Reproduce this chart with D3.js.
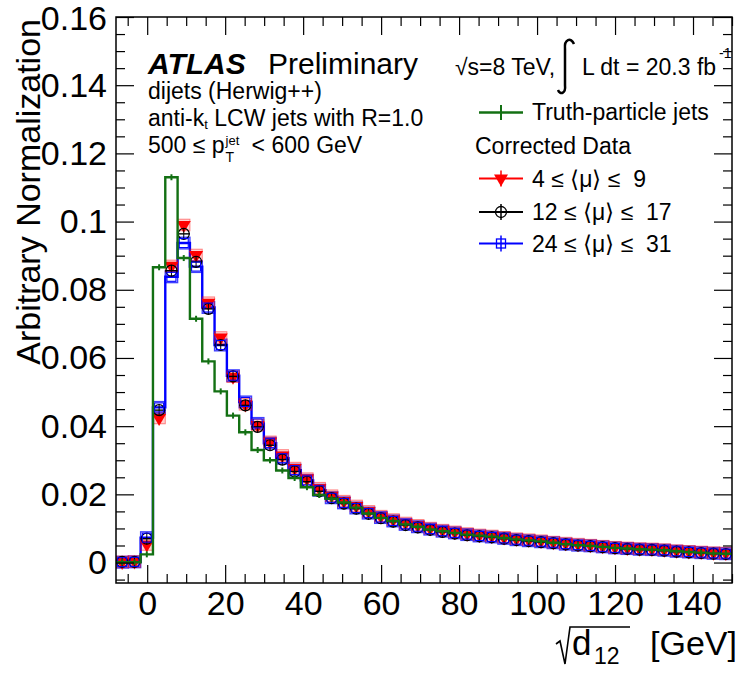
<!DOCTYPE html>
<html>
<head>
<meta charset="utf-8">
<script src="https://cdn.jsdelivr.net/npm/d3@7"></script>
<style>
  body { margin: 0; background: #fff; }
  text { font-family: "Liberation Sans", Arial, Helvetica, sans-serif; fill: #000; white-space: pre; }
</style>
</head>
<body>
<div id="chart"></div>
<script>
// binning of sqrt(d12): 50 bins from -8 to 150 GeV
var binLo = -8, binHi = 150, nBins = 50;

var truthJets = [0.0001, 0.0001, 0.0024, 0.0866, 0.1130, 0.0893, 0.0715, 0.0590, 0.0502, 0.0431,
  0.0382, 0.0330, 0.0300, 0.0270, 0.0248, 0.0221, 0.0198, 0.0187, 0.0176, 0.0161,
  0.0144, 0.0131, 0.0122, 0.0112, 0.0105, 0.0097, 0.0092, 0.0087, 0.0082, 0.0079,
  0.0076, 0.0072, 0.0068, 0.0065, 0.0062, 0.0058, 0.0054, 0.0051, 0.0049, 0.0046,
  0.0043, 0.0041, 0.0039, 0.0038, 0.0036, 0.0033, 0.0031, 0.0029, 0.0027, 0.0026];

var mu4to9 = [0.0002, 0.0003, 0.0053, 0.0424, 0.0870, 0.0990, 0.0902, 0.0762, 0.0660, 0.0545,
  0.0464, 0.0403, 0.0354, 0.0314, 0.0277, 0.0246, 0.0218, 0.0196, 0.0180, 0.0166,
  0.0150, 0.0136, 0.0126, 0.0116, 0.0109, 0.0101, 0.0095, 0.0090, 0.0085, 0.0081,
  0.0078, 0.0074, 0.0070, 0.0067, 0.0064, 0.0060, 0.0057, 0.0054, 0.0051, 0.0048,
  0.0045, 0.0043, 0.0041, 0.0040, 0.0038, 0.0035, 0.0033, 0.0031, 0.0029, 0.0028];

var mu12to17 = [0.0002, 0.0002, 0.0070, 0.0447, 0.0856, 0.0964, 0.0882, 0.0744, 0.0638, 0.0546,
  0.0461, 0.0398, 0.0344, 0.0302, 0.0267, 0.0237, 0.0209, 0.0189, 0.0173, 0.0158,
  0.0143, 0.0130, 0.0120, 0.0110, 0.0103, 0.0096, 0.0090, 0.0085, 0.0080, 0.0077,
  0.0074, 0.0070, 0.0066, 0.0063, 0.0060, 0.0057, 0.0053, 0.0050, 0.0048, 0.0045,
  0.0042, 0.0040, 0.0038, 0.0037, 0.0035, 0.0032, 0.0030, 0.0028, 0.0026, 0.0025];

var mu24to31 = [0.0001, 0.0002, 0.0073, 0.0455, 0.0838, 0.0937, 0.0868, 0.0748, 0.0638, 0.0548,
  0.0471, 0.0408, 0.0350, 0.0306, 0.0271, 0.0241, 0.0212, 0.0190, 0.0175, 0.0160,
  0.0145, 0.0132, 0.0122, 0.0112, 0.0105, 0.0098, 0.0092, 0.0087, 0.0082, 0.0078,
  0.0075, 0.0071, 0.0067, 0.0064, 0.0061, 0.0058, 0.0054, 0.0051, 0.0049, 0.0046,
  0.0043, 0.0041, 0.0039, 0.0038, 0.0036, 0.0033, 0.0031, 0.0029, 0.0027, 0.0026];

var xTicks = [0, 20, 40, 60, 80, 100, 120, 140];
var yTicks = [0, 0.02, 0.04, 0.06, 0.08, 0.1, 0.12, 0.14, 0.16];
var xMinor = d3.range(-5, 151, 5).filter(function(v) { return v % 20 !== 0; });
var yMinor = d3.range(-0.005, 0.1551, 0.005).filter(function(v) { return Math.abs(v / 0.02 - Math.round(v / 0.02)) > 0.01; });

var syst = 0.0017; // half height of the uncertainty boxes

var margin = {top: 17, right: 7, bottom: 90, left: 116},
    width = 739 - margin.left - margin.right,
    height = 673 - margin.top - margin.bottom;

var svg = d3.select("#chart")
  .append("svg")
    .attr("width", 739)
    .attr("height", 673);

var g = svg.append("g")
    .attr("transform", "translate(" + margin.left + "," + margin.top + ")");

var x = d3.scaleLinear().domain([binLo, binHi]).range([0, width]);
var y = d3.scaleLinear().domain([-0.006, 0.16]).range([height, 0]);

var bw = (binHi - binLo) / nBins;
var bins = d3.range(nBins).map(function(i) {
  return {i: i, lo: binLo + i * bw, hi: binLo + (i + 1) * bw, mid: binLo + (i + 0.5) * bw};
});

svg.append("defs").append("clipPath").attr("id", "clip")
  .append("rect").attr("width", width).attr("height", height);

var plot = g.append("g").attr("clip-path", "url(#clip)");

function stepPoints(vals) {
  var pts = bins.map(function(b) { return [x(b.lo), y(vals[b.i])]; });
  pts.push([x(binHi), y(vals[nBins - 1])]);
  return pts;
}
var stepLine = d3.line().curve(d3.curveStepAfter);

// blue: uncertainty boxes + histogram line
plot.append("g").selectAll("rect")
  .data(bins).enter().append("rect")
    .attr("x", function(b) { return x(b.lo); })
    .attr("y", function(b) { return y(mu24to31[b.i] + syst); })
    .attr("width", function(b) { return x(b.hi) - x(b.lo); })
    .attr("height", function(b) { return y(mu24to31[b.i] - syst) - y(mu24to31[b.i] + syst); })
    .attr("fill", "none")
    .attr("stroke", "#4040ff")
    .attr("stroke-width", 1.4);

plot.append("path")
  .attr("d", stepLine(stepPoints(mu24to31)))
  .attr("fill", "none")
  .attr("stroke", "#0000ff")
  .attr("stroke-width", 2.4);

// red boxes
plot.append("g").selectAll("rect")
  .data(bins).enter().append("rect")
    .attr("x", function(b) { return x(b.lo); })
    .attr("y", function(b) { return y(mu4to9[b.i] + syst); })
    .attr("width", function(b) { return x(b.hi) - x(b.lo); })
    .attr("height", function(b) { return y(mu4to9[b.i] - syst) - y(mu4to9[b.i] + syst); })
    .attr("fill", "#ff0000")
    .attr("fill-opacity", 0.18)
    .attr("stroke", "#ff0000")
    .attr("stroke-opacity", 0.45)
    .attr("stroke-width", 1);

// red triangles
var tri = d3.symbol().type(d3.symbolTriangle).size(85);
plot.append("g").selectAll("path")
  .data(bins).enter().append("path")
    .attr("d", tri)
    .attr("transform", function(b) { return "translate(" + x(b.mid) + "," + y(mu4to9[b.i]) + ") rotate(180)"; })
    .attr("fill", "#ff0000");

// black: horizontal bin bars, vertical errors, open circles
var blk = plot.append("g");
bins.forEach(function(b) {
  var cx = x(b.mid), cy = y(mu12to17[b.i]);
  blk.append("line").attr("x1", x(b.lo)).attr("x2", x(b.hi)).attr("y1", cy).attr("y2", cy)
    .attr("stroke", "#000").attr("stroke-width", 1.4);
  blk.append("line").attr("x1", cx).attr("x2", cx)
    .attr("y1", y(mu12to17[b.i] + syst)).attr("y2", y(mu12to17[b.i] - syst))
    .attr("stroke", "#000").attr("stroke-width", 1);
  blk.append("circle").attr("cx", cx).attr("cy", cy).attr("r", 5.5)
    .attr("fill", "none").attr("stroke", "#000").attr("stroke-width", 1.2);
});

// blue open squares
plot.append("g").selectAll("rect")
  .data(bins).enter().append("rect")
    .attr("x", function(b) { return x(b.mid) - 4.5; })
    .attr("y", function(b) { return y(mu24to31[b.i]) - 4.5; })
    .attr("width", 9).attr("height", 9)
    .attr("fill", "none")
    .attr("stroke", "#0000ff")
    .attr("stroke-width", 1.1);

// truth-particle jets, green histogram on top
plot.append("path")
  .attr("d", stepLine(stepPoints(truthJets)))
  .attr("fill", "none")
  .attr("stroke", "#137013")
  .attr("stroke-width", 2.4);
plot.append("g").selectAll("line")
  .data(bins).enter().append("line")
    .attr("x1", function(b) { return x(b.mid); })
    .attr("x2", function(b) { return x(b.mid); })
    .attr("y1", function(b) { return y(truthJets[b.i]) - 3; })
    .attr("y2", function(b) { return y(truthJets[b.i]) + 3; })
    .attr("stroke", "#137013")
    .attr("stroke-width", 2);

// axes (ROOT style: ticks inside, mirrored on top/right)
function styleAxis(sel) {
  sel.select(".domain").remove();
  sel.selectAll("line").attr("stroke", "#000").attr("stroke-width", 1.2);
  sel.selectAll("text").style("font-size", "34px").attr("fill", "#000");
}

g.append("g").attr("transform", "translate(0," + height + ")")
  .call(d3.axisBottom(x).tickValues(xTicks).tickSize(-18).tickPadding(8).tickSizeOuter(0).tickFormat(d3.format("d")))
  .call(styleAxis);
g.append("g").attr("transform", "translate(0," + height + ")")
  .call(d3.axisBottom(x).tickValues(xMinor).tickSize(-9).tickFormat(""))
  .call(styleAxis);
g.append("g")
  .call(d3.axisTop(x).tickValues(xTicks).tickSize(-18).tickFormat(""))
  .call(styleAxis);
g.append("g")
  .call(d3.axisTop(x).tickValues(xMinor).tickSize(-9).tickFormat(""))
  .call(styleAxis);

var yAx = g.append("g")
  .call(d3.axisLeft(y).tickValues(yTicks).tickSize(-18).tickPadding(9).tickFormat(function(d) { return d === 0 ? "0" : d3.format("")(+d.toFixed(2)); }))
  .call(styleAxis);
// keep the top label inside the picture
yAx.selectAll(".tick text").filter(function(d) { return d === 0.16; }).attr("dy", "0.38em");
g.append("g")
  .call(d3.axisLeft(y).tickValues(yMinor).tickSize(-9).tickFormat(""))
  .call(styleAxis);
g.append("g").attr("transform", "translate(" + width + ",0)")
  .call(d3.axisRight(y).tickValues(yTicks).tickSize(-18).tickFormat(""))
  .call(styleAxis);
g.append("g").attr("transform", "translate(" + width + ",0)")
  .call(d3.axisRight(y).tickValues(yMinor).tickSize(-9).tickFormat(""))
  .call(styleAxis);

g.append("rect")
  .attr("width", width).attr("height", height)
  .attr("fill", "none").attr("stroke", "#000").attr("stroke-width", 1.5);

// axis titles
svg.append("text")
  .attr("transform", "translate(40,19) rotate(-90)")
  .attr("text-anchor", "end")
  .style("font-size", "34px")
  .text("Arbitrary Normalization");

var xt = svg.append("g");
xt.append("path")
  .attr("d", "M556,644 L560,641 L565,664 L570,627 L630,627")
  .attr("fill", "none").attr("stroke", "#000").attr("stroke-width", 1.6);
xt.append("text").attr("x", 572).attr("y", 655).style("font-size", "35px").text("d");
xt.append("text").attr("x", 594).attr("y", 664).style("font-size", "23px").text("12");
xt.append("text").attr("x", 737).attr("y", 655).attr("text-anchor", "end").style("font-size", "34px").text("[GeV]");

// ATLAS label block
var lab = svg.append("g");
lab.append("text").attr("x", 148).attr("y", 74)
  .style("font-size", "30px").style("font-weight", "bold").style("font-style", "italic").text("ATLAS");
lab.append("text").attr("x", 268).attr("y", 74).style("font-size", "30px").text("Preliminary");
lab.append("text").attr("x", 148).attr("y", 99).style("font-size", "23px").text("dijets (Herwig++)");

var l2 = lab.append("text").attr("x", 148).attr("y", 126).style("font-size", "23px");
l2.append("tspan").text("anti-k");
l2.append("tspan").attr("dy", 3).style("font-size", "13px").text("t");
l2.append("tspan").attr("dy", -3).text(" LCW jets with R=1.0");

var l3a = lab.append("text").attr("x", 148).attr("y", 153).style("font-size", "23px").text("500 \u2264 p");
var pw = l3a.node().getComputedTextLength();
lab.append("text").attr("x", 148 + pw + 1).attr("y", 162).style("font-size", "14px").text("T");
lab.append("text").attr("x", 148 + pw + 1).attr("y", 145).style("font-size", "13px").text("jet");
lab.append("text").attr("x", 148 + pw + 27).attr("y", 153).style("font-size", "23px").text("< 600 GeV");

// energy and luminosity
lab.append("text").attr("x", 455).attr("y", 75).style("font-size", "23px").text("\u221As=8 TeV,");
lab.append("path")
  .attr("d", "M574,44 C571,37 564,39 565,49 L565,85 C566,94 560,95 558,90")
  .attr("fill", "none").attr("stroke", "#000").attr("stroke-width", 2.5);
lab.append("text").attr("x", 582).attr("y", 75).style("font-size", "23px").text("L dt = 20.3 fb");
lab.append("text").attr("x", 719).attr("y", 58).style("font-size", "14px").text("-1");

// legend
var leg = svg.append("g");
var lx1 = 479, lx2 = 523, lmid = 501, ltx = 532;

leg.append("line").attr("x1", lx1).attr("x2", lx2).attr("y1", 112.5).attr("y2", 112.5)
  .attr("stroke", "#137013").attr("stroke-width", 2.4);
leg.append("line").attr("x1", lmid).attr("x2", lmid).attr("y1", 105).attr("y2", 120)
  .attr("stroke", "#137013").attr("stroke-width", 2);
leg.append("text").attr("x", ltx).attr("y", 120).style("font-size", "23px").text("Truth-particle jets");

leg.append("text").attr("x", 475).attr("y", 154).style("font-size", "23px").text("Corrected Data");

var entries = [
  {yy: 178.5, color: "#ff0000", label: "4 \u2264 \u27E8\u03BC\u27E9 \u2264  9", kind: "tri"},
  {yy: 212, color: "#000000", label: "12 \u2264 \u27E8\u03BC\u27E9 \u2264  17", kind: "circ"},
  {yy: 243.5, color: "#0000ff", label: "24 \u2264 \u27E8\u03BC\u27E9 \u2264  31", kind: "sq"}
];
entries.forEach(function(e) {
  leg.append("line").attr("x1", lx1).attr("x2", lx2).attr("y1", e.yy).attr("y2", e.yy)
    .attr("stroke", e.color).attr("stroke-width", 1.8);
  leg.append("line").attr("x1", lmid).attr("x2", lmid).attr("y1", e.yy - 8).attr("y2", e.yy + 8)
    .attr("stroke", e.color).attr("stroke-width", 1.5);
  if (e.kind === "tri") {
    leg.append("path").attr("d", tri).attr("transform", "translate(" + lmid + "," + e.yy + ") rotate(180)")
      .attr("fill", e.color);
  } else if (e.kind === "circ") {
    leg.append("circle").attr("cx", lmid).attr("cy", e.yy).attr("r", 5.5)
      .attr("fill", "none").attr("stroke", e.color).attr("stroke-width", 1.3);
  } else {
    leg.append("rect").attr("x", lmid - 4.5).attr("y", e.yy - 4.5).attr("width", 9).attr("height", 9)
      .attr("fill", "none").attr("stroke", e.color).attr("stroke-width", 1.3);
  }
  leg.append("text").attr("x", ltx).attr("y", e.yy + 8).style("font-size", "23px").text(e.label);
});
</script>
</body>
</html>
